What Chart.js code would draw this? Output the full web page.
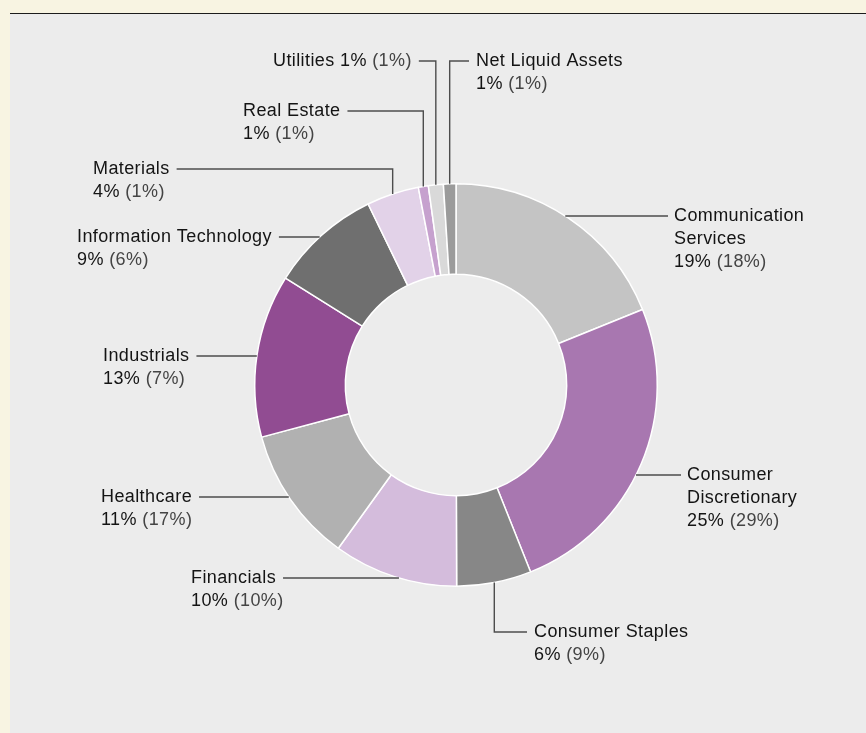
<!DOCTYPE html>
<html>
<head>
<meta charset="utf-8">
<script src="https://cdn.jsdelivr.net/npm/chart.js@4.4.1/dist/chart.umd.min.js"></script>
<style>
  html, body { margin: 0; padding: 0; width: 866px; height: 733px; overflow: hidden; background: #f8f4e2; }
  #panel { position: absolute; left: 10px; top: 13px; right: 0; bottom: 0; background: #ececec; border-top: 1.6px solid #1c1c1c; }
  #wrap { position: absolute; left: 0; top: 0; width: 866px; height: 733px; }
</style>
</head>
<body>
<div id="panel"></div>
<div id="wrap"><canvas id="c"></canvas></div>
<script>
// ---- data ----
const categories = ['Communication Services', 'Consumer Discretionary', 'Consumer Staples', 'Financials', 'Healthcare', 'Industrials', 'Information Technology', 'Materials', 'Real Estate', 'Utilities', 'Net Liquid Assets'];
const weights = [18.9, 25.1, 6.0, 10.0, 10.9, 13.1, 8.9, 4.2, 0.8, 1.2, 1.0];
const fundLabels = ['19%', '25%', '6%', '10%', '11%', '13%', '9%', '4%', '1%', '1%', '1%'];
const benchLabels = ['(18%)', '(29%)', '(9%)', '(10%)', '(17%)', '(7%)', '(6%)', '(1%)', '(1%)', '(1%)', '(1%)'];
const colors = ['#c4c4c4', '#a877b0', '#878787', '#d4bcdc', '#b1b1b1', '#914c92', '#6f6f6f', '#e2d2e8', '#c6a1ce', '#d9d9d9', '#9b9b9b'];

// ---- label layout (text positions & leader style) ----
const labelLayout = [
  { side: 'right', x: 674, y: 216, mode: 'h', split: true },
  { side: 'right', x: 687, y: 475, mode: 'h', split: true },
  { side: 'right', x: 534, y: 632, mode: 'v' },
  { side: 'left',  x: 191, y: 578, mode: 'h' },
  { side: 'left',  x: 101, y: 497, mode: 'h' },
  { side: 'left',  x: 103, y: 356, mode: 'h' },
  { side: 'left',  x: 77,  y: 237, mode: 'h' },
  { side: 'left',  x: 93,  y: 169, mode: 'v' },
  { side: 'left',  x: 243, y: 111, mode: 'v' },
  { side: 'left',  x: 273, y: 61,  mode: 'v', inline: true },
  { side: 'right', x: 476, y: 61,  mode: 'v' }
];

const FONT = '18px "Liberation Sans", Arial, Helvetica, sans-serif';
const LINE_H = 23;
const TEXT_COLOR = '#141414';
const PAREN_COLOR = '#444444';
const LEADER_COLOR = '#4d4d4d';

const labelPlugin = {
  id: 'leaderLabels',
  afterDraw(chart) {
    const ctx = chart.ctx;
    const meta = chart.getDatasetMeta(0);
    ctx.save();
    ctx.font = FONT;
    if ('letterSpacing' in ctx) ctx.letterSpacing = '0.4px';
    ctx.textBaseline = 'middle';
    ctx.textAlign = 'left';
    ctx.strokeStyle = LEADER_COLOR;
    ctx.lineWidth = 1.4;
    meta.data.forEach((arc, i) => {
      const L = labelLayout[i];
      const cx = arc.x, cy = arc.y, R = arc.outerRadius;
      let lines;
      const name = categories[i];
      if (L.inline) {
        lines = [[name + ' ', fundLabels[i], ' ' + benchLabels[i]]];
      } else if (L.split) {
        const k = name.indexOf(' ');
        lines = [[name.slice(0, k)], [name.slice(k + 1)], ['', fundLabels[i], ' ' + benchLabels[i]]];
      } else {
        lines = [[name], ['', fundLabels[i], ' ' + benchLabels[i]]];
      }
      lines.forEach((parts, li) => {
        let x = L.x;
        const y = L.y + li * LINE_H;
        parts.forEach((p, pi) => {
          ctx.fillStyle = pi === 2 ? PAREN_COLOR : TEXT_COLOR;
          ctx.fillText(p, x, y);
          x += ctx.measureText(p).width;
        });
      });
      const firstW = lines[0].reduce((s, p) => s + ctx.measureText(p).width, 0);
      ctx.beginPath();
      if (L.mode === 'h') {
        const dy = L.y - cy;
        const dx = Math.sqrt(Math.max(R * R - dy * dy, 0));
        if (L.side === 'right') {
          ctx.moveTo(cx + dx, L.y);
          ctx.lineTo(L.x - 6, L.y);
        } else {
          ctx.moveTo(L.x + firstW + 7, L.y);
          ctx.lineTo(cx - dx, L.y);
        }
      } else {
        const a = (arc.startAngle + arc.endAngle) / 2;
        const vx = cx + R * Math.cos(a);
        const vy = cy + R * Math.sin(a);
        if (L.side === 'right') {
          ctx.moveTo(vx, vy);
          ctx.lineTo(vx, L.y);
          ctx.lineTo(L.x - 7, L.y);
        } else {
          ctx.moveTo(L.x + firstW + 7, L.y);
          ctx.lineTo(vx, L.y);
          ctx.lineTo(vx, vy);
        }
      }
      ctx.stroke();
    });
    ctx.restore();
  }
};

new Chart(document.getElementById('c'), {
  type: 'doughnut',
  data: {
    labels: categories,
    datasets: [{
      data: weights,
      backgroundColor: colors,
      borderColor: '#ffffff',
      borderWidth: 1.5
    }]
  },
  options: {
    responsive: true,
    maintainAspectRatio: false,
    animation: false,
    cutout: '55%',
    layout: { padding: { left: 254, right: 208, top: 183, bottom: 146 } },
    plugins: { legend: { display: false }, tooltip: { enabled: false } }
  },
  plugins: [labelPlugin]
});
</script>
</body>
</html>
